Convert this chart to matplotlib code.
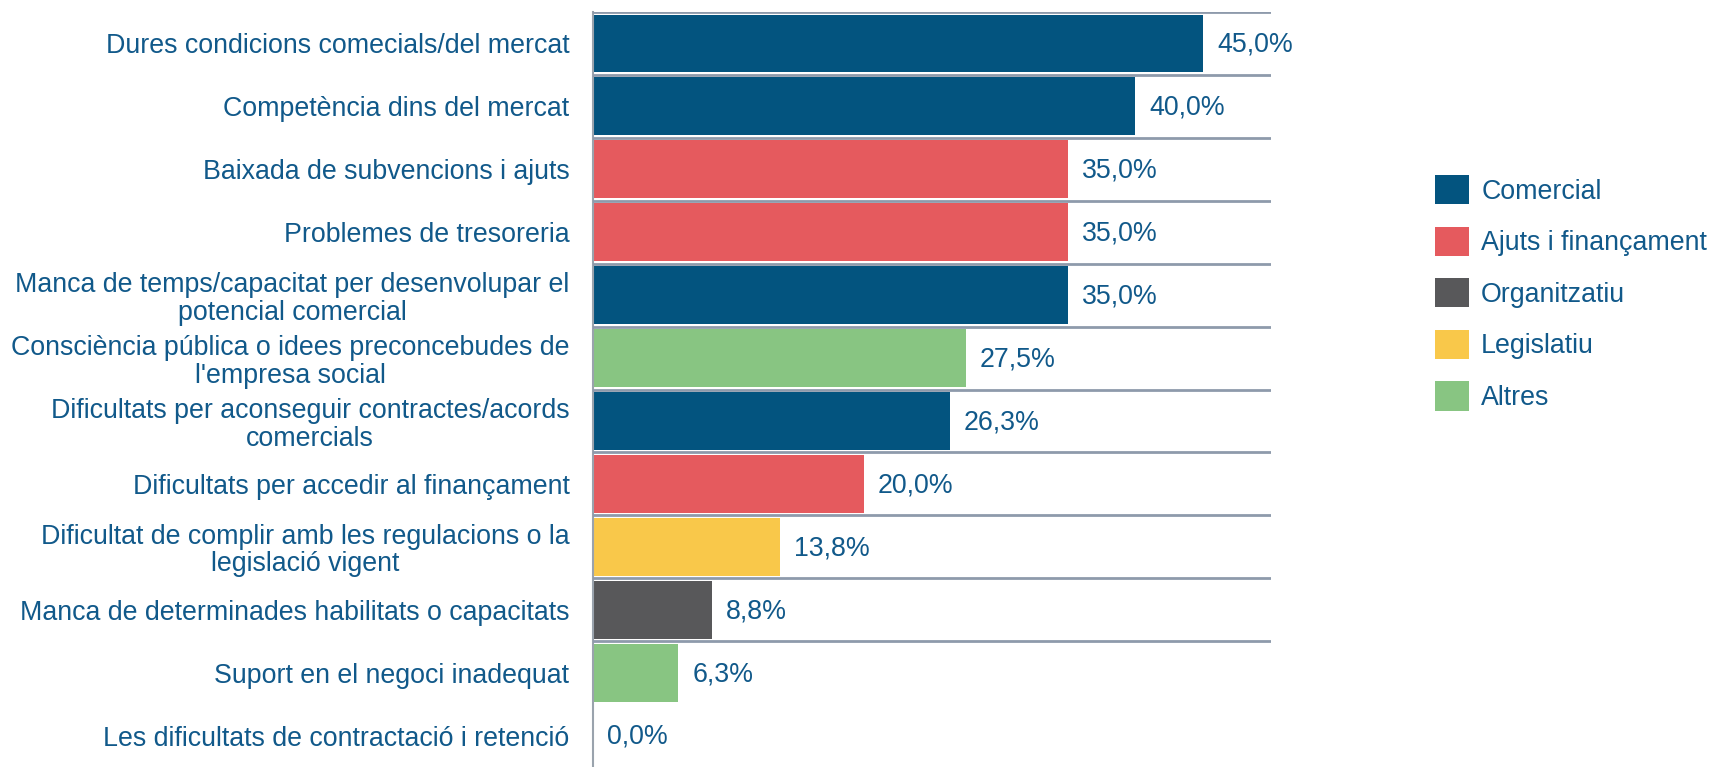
import matplotlib
matplotlib.use("Agg")
import matplotlib.pyplot as plt
from matplotlib.patches import Patch

plt.rcParams['font.family'] = ['Liberation Sans', 'DejaVu Sans']

# data (top to bottom)
categories = [
    "Dures condicions comecials/del mercat",
    "Competència dins del mercat",
    "Baixada de subvencions i ajuts",
    "Problemes de tresoreria",
    "Manca de temps/capacitat per desenvolupar el\npotencial comercial",
    "Consciència pública o idees preconcebudes de\nl'empresa social",
    "Dificultats per aconseguir contractes/acords\ncomercials",
    "Dificultats per accedir al finançament",
    "Dificultat de complir amb les regulacions o la\nlegislació vigent",
    "Manca de determinades habilitats o capacitats",
    "Suport en el negoci inadequat",
    "Les dificultats de contractació i retenció",
]
values = [45.0, 40.0, 35.0, 35.0, 35.0, 27.5, 26.3, 20.0, 13.8, 8.8, 6.3, 0.0]
groups = ["Comercial", "Comercial", "Ajuts i finançament", "Ajuts i finançament",
          "Comercial", "Altres", "Comercial", "Ajuts i finançament",
          "Legislatiu", "Organitzatiu", "Altres", "Organitzatiu"]
legend_order = ["Comercial", "Ajuts i finançament", "Organitzatiu", "Legislatiu", "Altres"]
group_colors = {
    "Comercial": "#03547f",
    "Ajuts i finançament": "#e55a5e",
    "Organitzatiu": "#58585a",
    "Legislatiu": "#f9c84a",
    "Altres": "#88c582",
}

text_color = "#11598a"
grid_color = "#8e9aab"
fs = 19.3

fig = plt.figure(figsize=(17.21, 7.67), dpi=100)
ax = fig.add_axes([593 / 1721, 0.0, (1271 - 593) / 1721, 1 - 12 / 767])

y = list(range(len(categories)))
ax.barh(y, values, height=0.92, color=[group_colors[g] for g in groups], zorder=2)

# row separators
for b in range(len(categories) - 1):
    ax.axhline(b - 0.5, color=grid_color, lw=2, zorder=3)

for yi, v in zip(y, values):
    ax.annotate(f"{v:.1f}%".replace(".", ","), xy=(v, yi), xytext=(10, -1),
                textcoords="offset points", va="center", ha="left",
                fontsize=fs, color=text_color)

ax.set_xlim(0, 50)
ax.set_ylim(len(categories) - 0.5, -0.5)
ax.set_yticks(y)
ax.set_yticklabels(categories, fontsize=fs, color=text_color, linespacing=1.08,
                   multialignment="center")
ax.set_xticks([])
ax.tick_params(axis="y", length=0, pad=17)
for s in ["top", "right", "bottom"]:
    ax.spines[s].set_visible(False)
ax.spines["left"].set_color("#9aa3ad")
ax.spines["left"].set_linewidth(1.5)

handles = [Patch(facecolor=group_colors[g], edgecolor="none") for g in legend_order]
fig.legend(handles, legend_order, loc="upper left", bbox_to_anchor=(1411 / 1721, 1 - 151 / 767),
           frameon=False, fontsize=fs, handlelength=1.27, handleheight=1.3,
           handletextpad=0.45, labelspacing=0.82, labelcolor=text_color)

fig.savefig("out.png", dpi=100)
